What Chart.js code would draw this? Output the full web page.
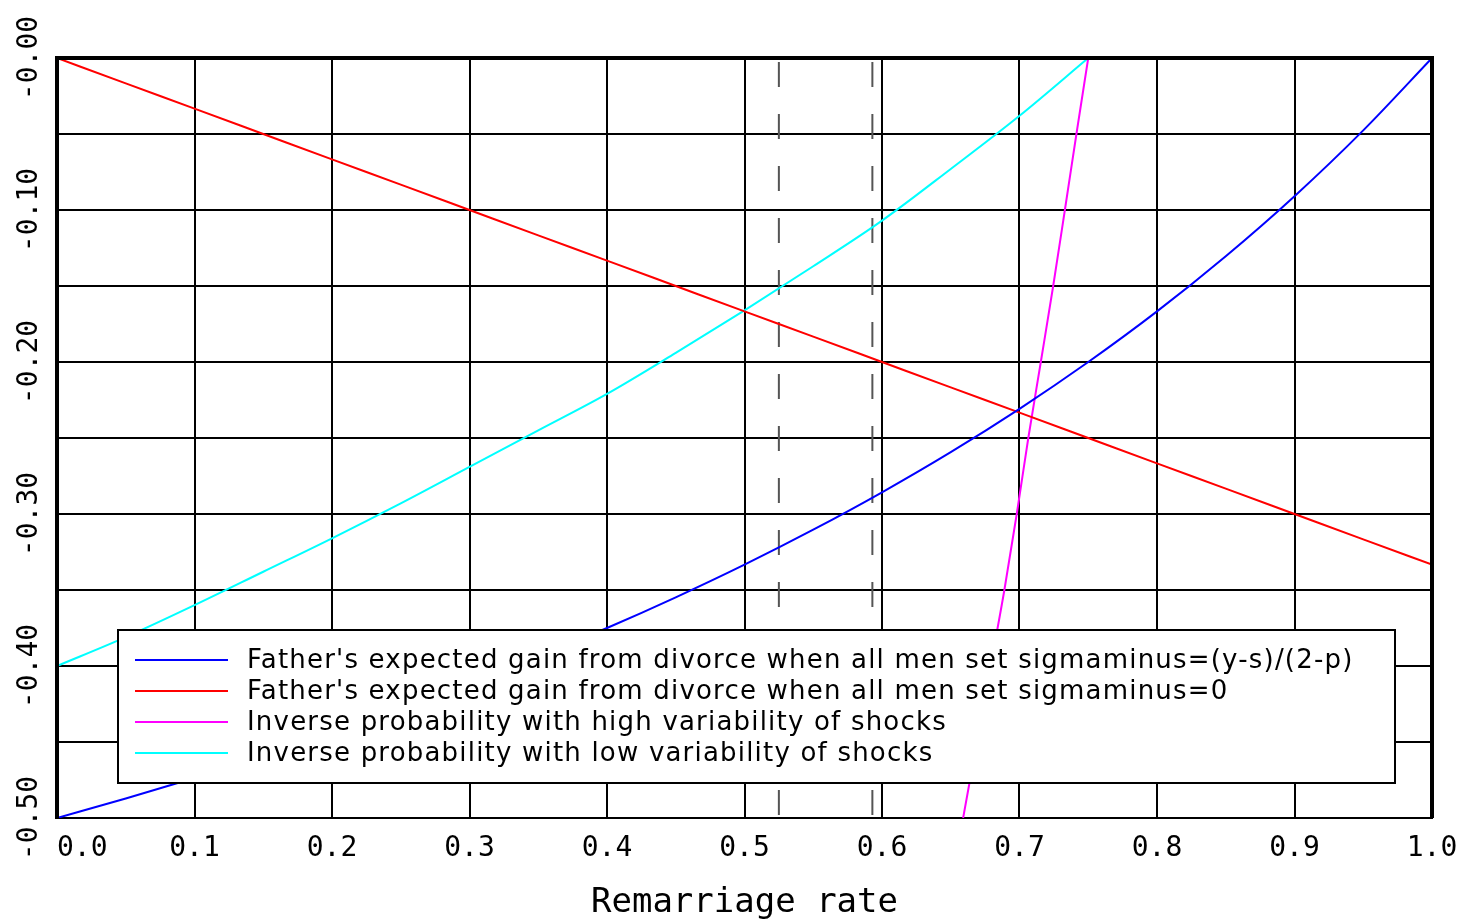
<!DOCTYPE html>
<html>
<head>
<meta charset="utf-8">
<script src="https://cdn.jsdelivr.net/npm/chart.js"></script>
<style>
  html, body { margin: 0; padding: 0; background: #fff; }
  #wrap { width: 1461px; height: 920px; }
</style>
</head>
<body>
<div id="wrap"><canvas id="remarriageChart" width="1461" height="920"></canvas></div>
<script>
// remarriage rate grid for the two "gain" curves
const remarriageRate = [0.00, 0.05, 0.10, 0.15, 0.20, 0.25, 0.30, 0.35, 0.40, 0.45, 0.50,
                        0.55, 0.60, 0.65, 0.70, 0.75, 0.80, 0.85, 0.90, 0.95, 1.00];
const gainSigmaMinus = [-0.5000, -0.4872, -0.4737, -0.4595, -0.4444, -0.4286, -0.4118, -0.3939, -0.3750, -0.3548, -0.3333,
                        -0.3103, -0.2857, -0.2593, -0.2308, -0.2000, -0.1667, -0.1304, -0.0909, -0.0476, 0.0000];
const gainZero = [0.0000, -0.0167, -0.0333, -0.0500, -0.0667, -0.0833, -0.1000, -0.1167, -0.1333, -0.1500, -0.1667,
                  -0.1833, -0.2000, -0.2167, -0.2333, -0.2500, -0.2667, -0.2833, -0.3000, -0.3167, -0.3333];

// inverse probability, high variability (steep curve)
const highVarRate = [0.659, 0.669, 0.679, 0.689, 0.698, 0.7064, 0.7155, 0.7245, 0.733, 0.7414, 0.750];
const highVarValue = [-0.50, -0.45, -0.40, -0.35, -0.30, -0.25, -0.20, -0.15, -0.10, -0.05, 0.00];

// inverse probability, low variability
const lowVarRate = [0.00, 0.05, 0.10, 0.15, 0.20, 0.25, 0.30, 0.35, 0.40, 0.45, 0.50, 0.55, 0.60, 0.65, 0.70, 0.75];
const lowVarValue = [-0.400, -0.381, -0.360, -0.338, -0.316, -0.293, -0.269, -0.245, -0.221, -0.194,
                     -0.166, -0.137, -0.107, -0.073, -0.038, 0.000];

// dashed vertical markers
const cutoffRates = [0.525, 0.593];

const seriesLabels = [
    "Father's expected gain from divorce when all men set sigmaminus=(y-s)/(2-p)",
    "Father's expected gain from divorce when all men set sigmaminus=0",
    "Inverse probability with high variability of shocks",
    "Inverse probability with low variability of shocks"
];
const seriesColors = ['#0000ff', '#ff0000', '#ff00ff', '#00ffff'];

const yTickValues = [0, -0.1, -0.2, -0.3, -0.4, -0.5];
const yTickLabels = ['-0.00', '-0.10', '-0.20', '-0.30', '-0.40', '-0.50'];

function toPoints(xs, ys) {
    return xs.map(function (x, i) { return { x: x, y: ys[i] }; });
}

const datasets = [
    { label: seriesLabels[0], data: toPoints(remarriageRate, gainSigmaMinus), borderColor: seriesColors[0] },
    { label: seriesLabels[1], data: toPoints(remarriageRate, gainZero), borderColor: seriesColors[1] },
    { label: seriesLabels[2], data: toPoints(highVarRate, highVarValue), borderColor: seriesColors[2] },
    { label: seriesLabels[3], data: toPoints(lowVarRate, lowVarValue), borderColor: seriesColors[3] }
];
datasets.forEach(function (d) { d.cubicInterpolationMode = 'monotone'; });
cutoffRates.forEach(function (r) {
    datasets.push({
        label: '',
        data: [{ x: r, y: 0 }, { x: r, y: -0.5 }],
        borderColor: '#555555',
        borderWidth: 2,
        tension: 0,
        borderDash: [25, 27],
        borderDashOffset: 48
    });
});

// y labels are drawn rotated, reading upwards
const yLabelPlugin = {
    id: 'yLabels',
    afterDraw: function (chart) {
        const c = chart.ctx;
        const y = chart.scales.y;
        c.save();
        c.font = '28px "DejaVu Sans Mono"';
        c.fillStyle = '#000';
        c.textAlign = 'center';
        c.textBaseline = 'middle';
        yTickValues.forEach(function (v, i) {
            c.save();
            c.translate(30, y.getPixelForValue(v));
            c.rotate(-Math.PI / 2);
            c.fillText(yTickLabels[i], 0, 0);
            c.restore();
        });
        c.restore();
    }
};

// heavy frame + legend box inside the plot
const framePlugin = {
    id: 'frameAndLegend',
    afterDatasetsDraw: function (chart) {
        const c = chart.ctx;
        const a = chart.chartArea;
        c.save();
        c.strokeStyle = '#000';
        c.lineWidth = 4;
        c.beginPath();
        c.moveTo(a.left, a.bottom);
        c.lineTo(a.left, a.top);
        c.lineTo(a.right, a.top);
        c.lineTo(a.right, a.bottom);
        c.stroke();

        const bx = a.left + 61, by = a.top + 572, bw = 1277, bh = 153;
        c.fillStyle = '#fff';
        c.fillRect(bx, by, bw, bh);
        c.lineWidth = 2;
        c.strokeRect(bx, by, bw, bh);

        c.font = '26px "DejaVu Sans"';
        c.letterSpacing = '1.2px';
        c.textBaseline = 'middle';
        c.textAlign = 'left';
        seriesLabels.forEach(function (lab, i) {
            const ry = by + 30 + i * 31;
            c.strokeStyle = seriesColors[i];
            c.lineWidth = 2;
            c.beginPath();
            c.moveTo(bx + 17, ry);
            c.lineTo(bx + 110, ry);
            c.stroke();
            c.fillStyle = '#000';
            c.fillText(lab, bx + 129, ry + 1);
        });
        c.restore();
    }
};

new Chart(document.getElementById('remarriageChart'), {
    type: 'line',
    data: { datasets: datasets },
    options: {
        responsive: false,
        animation: false,
        layout: { padding: { top: 58, right: 29, left: 0, bottom: 0 } },
        elements: {
            point: { radius: 0 },
            line: { borderWidth: 2, tension: 0, fill: false }
        },
        plugins: {
            legend: { display: false },
            tooltip: { enabled: false }
        },
        scales: {
            x: {
                type: 'linear',
                min: 0,
                max: 1,
                grid: { color: '#000', lineWidth: 2, drawTicks: false },
                border: { display: true, color: '#000', width: 2 },
                ticks: {
                    stepSize: 0.1,
                    padding: 14,
                    color: '#000',
                    font: { family: 'DejaVu Sans Mono', size: 28 },
                    maxRotation: 0,
                    autoSkip: false,
                    callback: function (v) { return v === 0 ? '   0.0' : v.toFixed(1); }
                },
                title: {
                    display: true,
                    text: 'Remarriage rate',
                    color: '#000',
                    font: { family: 'DejaVu Sans Mono', size: 34, lineHeight: 1.0 },
                    padding: { top: 0, bottom: 0 }
                },
                afterFit: function (s) {
                    s.height = 102;
                    s.paddingLeft = 0;
                    s.paddingRight = 0;
                }
            },
            y: {
                type: 'linear',
                min: -0.5,
                max: 0,
                grid: { color: '#000', lineWidth: 2, drawTicks: false },
                border: { display: true, color: '#000', width: 4 },
                ticks: { stepSize: 0.05, display: false },
                afterFit: function (s) { s.width = 57; }
            }
        }
    },
    plugins: [yLabelPlugin, framePlugin]
});
</script>
</body>
</html>
